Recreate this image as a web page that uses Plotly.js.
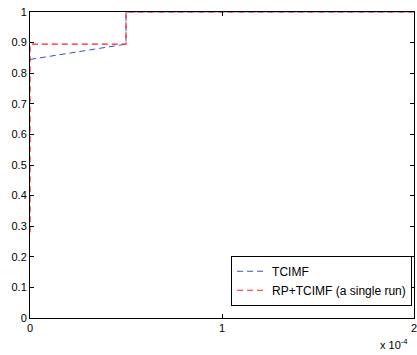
<!DOCTYPE html>
<html>
<head>
<meta charset="utf-8">
<script src="https://cdn.plot.ly/plotly-3.0.1.min.js"></script>
<style>html,body{margin:0;padding:0;background:#fff;}#chart{width:417px;height:355px;}</style>
</head>
<body>
<div id="chart"></div>
<script>
// Data (x in seconds, y is cumulative fraction)
const tcimfX = [0, 0.5e-4, 0.5e-4, 2e-4];
const tcimfY = [0.845, 0.895, 1, 1];
const rpX = [0, 0, 0.5e-4, 0.5e-4, 2e-4];
const rpY = [0.28, 0.895, 0.895, 1, 1];
const seriesNames = ['TCIMF', 'RP+TCIMF (a single run)'];
const xTickVals = [0, 1e-4, 2e-4];
const xTickText = ['0', '1', '2'];
const yTickVals = [0, 0.1, 0.2, 0.3, 0.4, 0.5, 0.6, 0.7, 0.8, 0.9, 1];
const yTickText = ['0', '0.1', '0.2', '0.3', '0.4', '0.5', '0.6', '0.7', '0.8', '0.9', '1'];

const font = {family: 'Liberation Sans, Arial, sans-serif', size: 11, color: '#000'};

const traces = [
  {x: tcimfX, y: tcimfY, name: seriesNames[0], mode: 'lines',
   line: {color: '#3a4fd0', width: 1, dash: '6px,4px'}},
  {x: rpX, y: rpY, name: seriesNames[1], mode: 'lines',
   line: {color: '#ff2020', width: 1.2, dash: '6px,4px'}}
];

const layout = {
  width: 417, height: 355,
  margin: {l: 30, r: 3, t: 12, b: 37},
  paper_bgcolor: '#fff', plot_bgcolor: '#fff',
  font: font,
  showlegend: true,
  xaxis: {
    range: [0, 2e-4], tickvals: xTickVals, ticktext: xTickText,
    ticks: 'inside', ticklen: 4, tickcolor: '#000', showgrid: false, zeroline: false,
    showline: true, linecolor: '#000', linewidth: 1, mirror: 'ticks',
    tickfont: font, ticklabeloverflow: 'allow'
  },
  yaxis: {
    range: [0, 1], tickvals: yTickVals, ticktext: yTickText,
    ticks: 'inside', ticklen: 4, tickcolor: '#000', showgrid: false, zeroline: false,
    showline: true, linecolor: '#000', linewidth: 1, mirror: 'ticks',
    tickfont: font
  },
  legend: {
    x: 0.995, xanchor: 'right', y: 0.04, yanchor: 'bottom',
    bgcolor: '#fff', bordercolor: '#000', borderwidth: 1,
    font: {family: font.family, size: 12, color: '#000'}, tracegroupgap: 0, itemwidth: 30
  },
  annotations: [{
    xref: 'paper', yref: 'paper', x: 0.99, y: -0.055, xanchor: 'right', yanchor: 'top',
    text: 'x 10<sup>-4</sup>', showarrow: false, font: {family: font.family, size: 11, color: '#000'}
  }]
};

Plotly.newPlot('chart', traces, layout, {displayModeBar: false, staticPlot: true});
</script>
</body>
</html>
